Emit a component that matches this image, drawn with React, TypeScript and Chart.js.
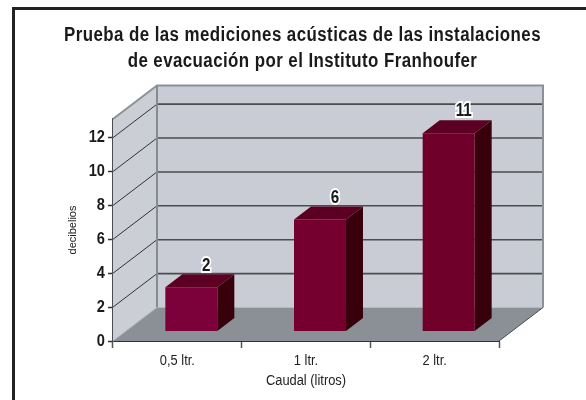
import React, { useEffect, useRef } from "react";
import { Chart, registerables } from "chart.js";

Chart.register(...registerables);

const titleLines = [
  "Prueba de las mediciones acústicas de las instalaciones",
  "de evacuación por el Instituto Franhoufer",
];
const categories = ["0,5 ltr.", "1 ltr.", "2 ltr."];
const barValues = [2.6, 6.6, 11.7];
const barLabels = ["2", "6", "11"];
const barColors = ["#7c0039", "#750030", "#6e0029"];
const yAxisTitle = "decibelios";
const xAxisTitle = "Caudal (litros)";

const FONT = '"Liberation Sans", sans-serif';
const DX = 44;
const DY = -33.5;
const BAR_SHIFT_X = 14;
const BAR_SHIFT_Y = -9.6;
const BAR_DX = 17;
const BAR_DY = -13;

const poly = (ctx: CanvasRenderingContext2D, pts: number[][], fill: string) => {
  ctx.beginPath();
  pts.forEach((p, i) => (i ? ctx.lineTo(p[0], p[1]) : ctx.moveTo(p[0], p[1])));
  ctx.closePath();
  ctx.fillStyle = fill;
  ctx.fill();
};

const line = (ctx: CanvasRenderingContext2D, pts: number[][], color: string, w: number) => {
  ctx.beginPath();
  pts.forEach((p, i) => (i ? ctx.lineTo(p[0], p[1]) : ctx.moveTo(p[0], p[1])));
  ctx.strokeStyle = color;
  ctx.lineWidth = w;
  ctx.stroke();
};

// The reference uses a condensed face: squeeze text horizontally by font size.
const condense = (ctx: any) => {
  const fill = ctx.fillText.bind(ctx);
  ctx.fillText = (t: string, x: number, y: number) => {
    const f: string = ctx.font;
    let factor = 1;
    if (f.includes("20px")) {
      factor = 0.845;
      ctx.letterSpacing = "0.5px";
    } else if (f.includes("19px")) {
      factor = 0.8;
    } else if (f.includes("14px")) {
      factor = 0.92;
    } else if (f.includes("17px")) {
      factor = 0.86;
    }
    fill(t, x, y, ctx.measureText(t).width * factor);
    ctx.letterSpacing = "0px";
  };
};

const roomPlugin = {
  id: "room",
  afterLayout(chart: any) {
    // Centre the title on the whole canvas, not between the layout paddings.
    chart.titleBlock.left = 0;
    chart.titleBlock.right = chart.width;
  },
  beforeDatasetsDraw(chart: any) {
    const { ctx, chartArea: a, scales } = chart;
    const { left: l, right: r, top: t, bottom: b } = a;
    ctx.save();
    poly(ctx, [[l, b], [l + DX, b + DY], [l + DX, t + DY], [l, t]], "#ccced6");
    poly(ctx, [[l + DX, b + DY], [r + DX, b + DY], [r + DX, t + DY], [l + DX, t + DY]], "#c9ccd4");
    poly(ctx, [[l, b], [r, b], [r + DX, b + DY], [l + DX, b + DY]], "#8a9095");
    scales.y.ticks.forEach((tick: any) => {
      if (tick.value === 0) return;
      const y = scales.y.getPixelForValue(tick.value);
      line(ctx, [[l, y], [l + DX, y + DY]], "#333", 1);
      line(ctx, [[l + DX, y + DY], [r + DX, y + DY]], "#4a4c50", 1.6);
    });
    line(ctx, [[l, t], [l + DX, t + DY], [r + DX, t + DY], [r + DX, b + DY]], "#8b9297", 2);
    line(ctx, [[l + DX, t + DY], [l + DX, b + DY]], "#858c91", 2);
    line(ctx, [[l, b], [l + DX, b + DY]], "#a8adb2", 1);
    line(ctx, [[r, b], [r + DX, b + DY]], "#4a4c50", 1);
    ctx.restore();
  },
  beforeDatasetDraw(chart: any) {
    const { ctx } = chart;
    ctx.save();
    ctx.translate(BAR_SHIFT_X, BAR_SHIFT_Y);
    chart.getDatasetMeta(0).data.forEach((bar: any) => {
      const half = bar.width / 2;
      const x0 = bar.x - half;
      const x1 = bar.x + half;
      const yT = bar.y;
      const yB = bar.base;
      poly(ctx, [[x0, yT], [x1, yT], [x1 + BAR_DX, yT + BAR_DY], [x0 + BAR_DX, yT + BAR_DY]], "#5b0022");
      poly(ctx, [[x1, yT], [x1 + BAR_DX, yT + BAR_DY], [x1 + BAR_DX, yB + BAR_DY], [x1, yB]], "#38000a");
    });
  },
  afterDatasetDraw(chart: any) {
    chart.ctx.restore();
  },
  afterDatasetsDraw(chart: any) {
    const { ctx } = chart;
    ctx.save();
    ctx.font = `bold 19px ${FONT}`;
    ctx.textAlign = "center";
    ctx.textBaseline = "middle";
    ctx.lineJoin = "miter";
    chart.getDatasetMeta(0).data.forEach((bar: any, i: number) => {
      const x = bar.x + BAR_SHIFT_X + 15;
      const y = bar.y + BAR_SHIFT_Y + BAR_DY - 9;
      const w = ctx.measureText(barLabels[i]).width * 0.8;
      ctx.strokeStyle = "#ffffff";
      ctx.lineWidth = 4;
      ctx.strokeText(barLabels[i], x, y, w);
      ctx.fillStyle = "#1a1a1a";
      ctx.fillText(barLabels[i], x, y);
    });
    ctx.restore();
  },
};

export default function App() {
  const ref = useRef<HTMLCanvasElement>(null);
  useEffect(() => {
    condense(ref.current!.getContext("2d"));
    const chart = new Chart(ref.current!, {
      type: "bar",
      data: {
        labels: categories,
        datasets: [
          {
            data: barValues,
            backgroundColor: barColors,
            barPercentage: 0.404,
            categoryPercentage: 1,
          },
        ],
      },
      options: {
        responsive: false,
        animation: false,
        layout: { padding: { left: 51, right: 91, top: 0, bottom: 10 } },
        plugins: {
          legend: { display: false },
          tooltip: { enabled: false },
          title: {
            display: true,
            text: titleLines,
            color: "#1a1a1a",
            font: { family: FONT, size: 20, weight: "bold", lineHeight: 26 / 20 },
            padding: { top: 12, bottom: 45 },
          },
        },
        scales: {
          x: {
            grid: { drawOnChartArea: false, drawTicks: true, tickLength: 7, tickColor: "#555", tickWidth: 1.5 },
            border: { color: "#333", width: 2 },
            ticks: { color: "#222", font: { family: FONT, size: 14 }, padding: 5, maxRotation: 0 },
            title: { display: true, text: xAxisTitle, color: "#222", font: { family: FONT, size: 14 }, padding: { top: 4, bottom: 0 } },
            afterFit: (s: any) => { s.height = 49; },
          },
          y: {
            min: 0,
            max: 13.1,
            grid: { drawOnChartArea: false, drawTicks: true, tickLength: 5, tickColor: "#333", tickWidth: 1.5 },
            border: { color: "#4a4c50", width: 2 },
            ticks: { stepSize: 2, includeBounds: false, color: "#1a1a1a", font: { family: FONT, size: 17, weight: "bold" }, padding: 3 },
            title: { display: true, text: yAxisTitle, color: "#222", font: { family: FONT, size: 11 }, padding: { top: 0, bottom: 4 } },
            afterFit: (s: any) => { s.width = 47; },
          },
        },
      },
      plugins: [roomPlugin],
    } as any);
    return () => chart.destroy();
  }, []);
  return (
    <div style={{ position: "fixed", left: 0, top: 0, width: 586, height: 400, overflow: "hidden", background: "#fff" }}>
      <div style={{ position: "absolute", left: 12, top: 7, borderLeft: "3px solid #222", borderTop: "3px solid #222" }}>
        <canvas ref={ref} width={575} height={390} style={{ display: "block" }} />
      </div>
    </div>
  );
}
